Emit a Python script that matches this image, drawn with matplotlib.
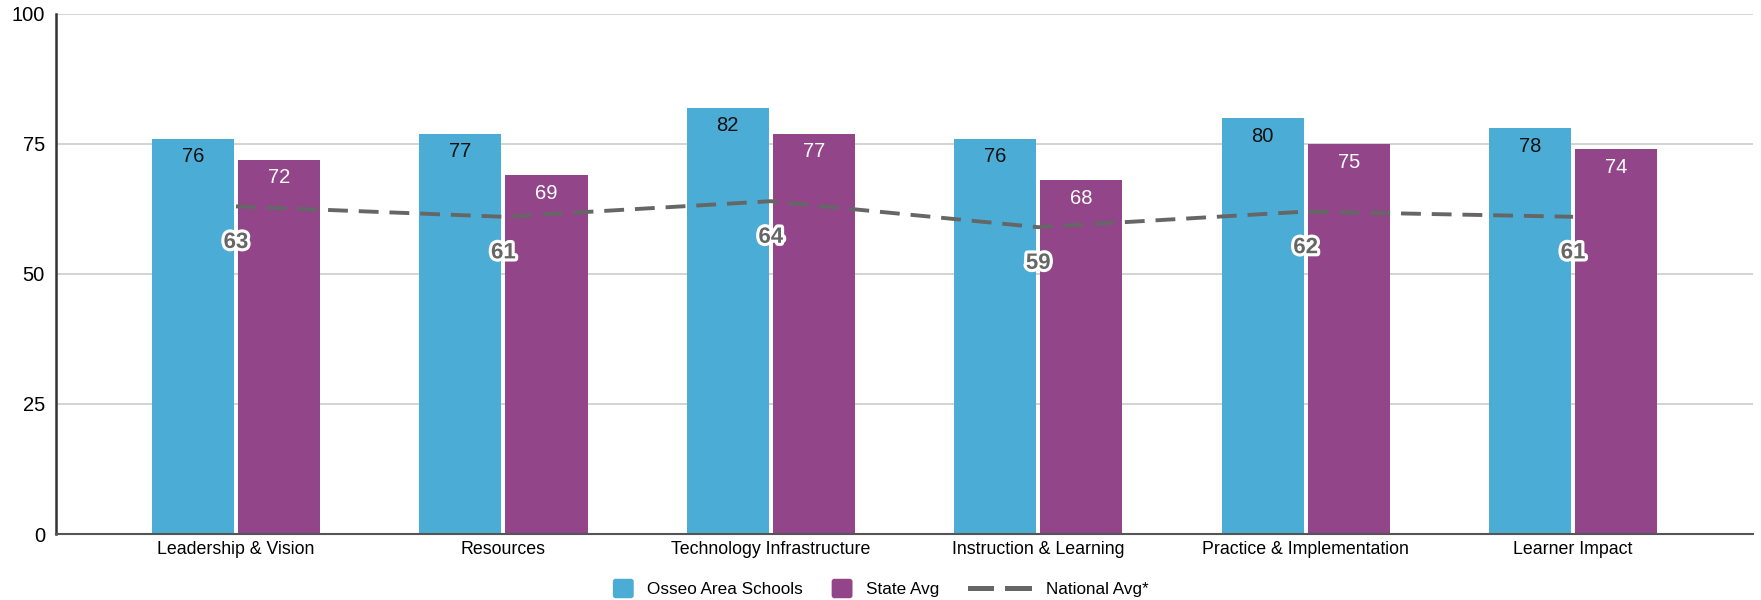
import matplotlib.pyplot as plt
import matplotlib.patheffects as pe
from matplotlib.patches import FancyBboxPatch, Rectangle
import numpy as np

plt.rcParams['font.family'] = ['Liberation Sans', 'DejaVu Sans']

# Scores by category
categorias = ['Leadership & Vision', 'Resources', 'Technology Infrastructure',
              'Instruction & Learning', 'Practice & Implementation', 'Learner Impact']
osseo = [76, 77, 82, 76, 80, 78]
estado = [72, 69, 77, 68, 75, 74]
nacional = [63, 61, 64, 59, 62, 61]

cor_azul = '#4BADD5'
cor_roxo = '#924689'
cor_linha = '#666666'


# legenda: quadrado arredondado para as barras
class HandlerQuadrado:
    def legend_artist(self, legend, orig_handle, fontsize, handlebox):
        w, h = handlebox.width, handlebox.height
        cor = orig_handle.patches[0].get_facecolor()
        p = FancyBboxPatch((0, h / 2 - 7), w, 14, boxstyle='round,pad=0,rounding_size=2',
                           facecolor=cor, edgecolor='none',
                           transform=handlebox.get_transform())
        handlebox.add_artist(p)
        return p


# legenda: dois traços para a linha tracejada
class HandlerTracos:
    def legend_artist(self, legend, orig_handle, fontsize, handlebox):
        handlebox.width = 46
        h = handlebox.height
        r = None
        for x0 in (0, 27):
            r = Rectangle((x0, h / 2 - 2), 19, 4, facecolor=cor_linha,
                          edgecolor='none', transform=handlebox.get_transform())
            handlebox.add_artist(r)
        return r


fig = plt.figure(figsize=(17.61, 6), dpi=100)
ax = fig.add_axes([0.0318, 0.11, 0.9637, 0.8667])

x = np.arange(len(categorias))
largura = 0.307
desloc = 0.161

b1 = ax.bar(x - desloc, osseo, width=largura, color=cor_azul, zorder=2,
            label='Osseo Area Schools')
b2 = ax.bar(x + desloc, estado, width=largura, color=cor_roxo, zorder=2,
            label='State Avg')
linha, = ax.plot(x, nacional, color=cor_linha, lw=2.8, ls=(0, (5.1, 2.8)),
                 zorder=3, label='National Avg*')

# rótulos dentro das barras
for xi, v in zip(x, osseo):
    ax.annotate(str(v), (xi - desloc, v), xytext=(0, -13), textcoords='offset points',
                ha='center', va='center', fontsize=14.5, color='#111111', zorder=4)
for xi, v in zip(x, estado):
    ax.annotate(str(v), (xi + desloc, v), xytext=(0, -13), textcoords='offset points',
                ha='center', va='center', fontsize=14.5, color='white', zorder=4)
# rótulos da média nacional
for xi, v in zip(x, nacional):
    ax.annotate(str(v), (xi, v), xytext=(0, -26), textcoords='offset points',
                ha='center', va='center', fontsize=16, fontweight='bold',
                color=cor_linha, zorder=5,
                path_effects=[pe.withStroke(linewidth=4.5, foreground='white')])

ax.set_xlim(-0.673, len(categorias) - 1 + 0.673)
ax.set_ylim(0, 100)
ax.set_yticks([0, 25, 50, 75, 100])
ax.tick_params(axis='y', length=0, labelsize=14.5, pad=8)
ax.set_xticks(x)
ax.set_xticklabels(categorias)
ax.tick_params(axis='x', length=0, labelsize=12.8, pad=5)
ax.grid(axis='y', color='#cccccc', lw=1.2, zorder=0)
for s in ['top', 'right']:
    ax.spines[s].set_visible(False)
ax.spines['left'].set_color('#333333')
ax.spines['left'].set_linewidth(1.8)
ax.spines['bottom'].set_color('#555555')
ax.spines['bottom'].set_linewidth(1.5)

fig.legend(handles=[b1, b2, linha], loc='center', bbox_to_anchor=(0.5, 0.0167),
           ncol=3, frameon=False, fontsize=12.3, handlelength=1.22,
           handletextpad=0.8, columnspacing=1.67, borderpad=0.2,
           handler_map={b1: HandlerQuadrado(), b2: HandlerQuadrado(),
                        linha: HandlerTracos()})

fig.savefig('out.png', dpi=100)
